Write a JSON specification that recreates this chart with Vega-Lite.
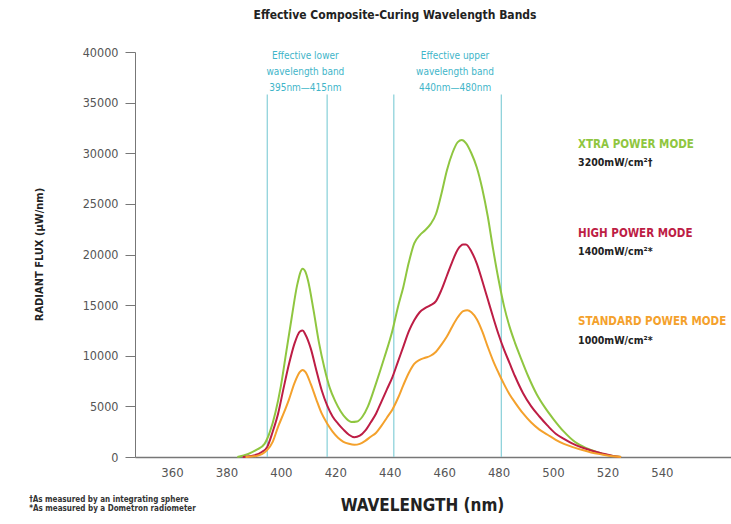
{
  "$schema": "https://vega.github.io/schema/vega-lite/v6.json",
  "width": 596,
  "height": 405,
  "autosize": {"type": "none"},
  "padding": {"left": 135, "top": 52, "right": 0, "bottom": 67},
  "background": "white",
  "title": {"text": "Effective Composite-Curing Wavelength Bands", "anchor": "middle", "dx": -38, "offset": 24, "fontSize": 12, "fontWeight": "bold", "color": "#222", "font": "Liberation Sans Narrow, DejaVu Sans Condensed, sans-serif"},
  "config": {"view": {"stroke": null}, "font": "Liberation Sans Narrow, DejaVu Sans Condensed, sans-serif"},
  "datasets": {
    "curves": [
      {"mode": "XTRA POWER MODE", "wl": 384, "flux": 0},
      {"mode": "XTRA POWER MODE", "wl": 388, "flux": 300},
      {"mode": "XTRA POWER MODE", "wl": 391, "flux": 700},
      {"mode": "XTRA POWER MODE", "wl": 394, "flux": 1300},
      {"mode": "XTRA POWER MODE", "wl": 396, "flux": 2500},
      {"mode": "XTRA POWER MODE", "wl": 398, "flux": 4400},
      {"mode": "XTRA POWER MODE", "wl": 400, "flux": 7000},
      {"mode": "XTRA POWER MODE", "wl": 402, "flux": 10400},
      {"mode": "XTRA POWER MODE", "wl": 404, "flux": 13800},
      {"mode": "XTRA POWER MODE", "wl": 406, "flux": 17000},
      {"mode": "XTRA POWER MODE", "wl": 408, "flux": 18600},
      {"mode": "XTRA POWER MODE", "wl": 409, "flux": 18300},
      {"mode": "XTRA POWER MODE", "wl": 410, "flux": 17400},
      {"mode": "XTRA POWER MODE", "wl": 412, "flux": 14500},
      {"mode": "XTRA POWER MODE", "wl": 414, "flux": 11300},
      {"mode": "XTRA POWER MODE", "wl": 416, "flux": 8800},
      {"mode": "XTRA POWER MODE", "wl": 418, "flux": 6800},
      {"mode": "XTRA POWER MODE", "wl": 420, "flux": 5500},
      {"mode": "XTRA POWER MODE", "wl": 422, "flux": 4500},
      {"mode": "XTRA POWER MODE", "wl": 424, "flux": 3800},
      {"mode": "XTRA POWER MODE", "wl": 426, "flux": 3450},
      {"mode": "XTRA POWER MODE", "wl": 428, "flux": 3500},
      {"mode": "XTRA POWER MODE", "wl": 430, "flux": 4000},
      {"mode": "XTRA POWER MODE", "wl": 432, "flux": 5000},
      {"mode": "XTRA POWER MODE", "wl": 435, "flux": 7300},
      {"mode": "XTRA POWER MODE", "wl": 438, "flux": 9800},
      {"mode": "XTRA POWER MODE", "wl": 441, "flux": 12500},
      {"mode": "XTRA POWER MODE", "wl": 443, "flux": 14800},
      {"mode": "XTRA POWER MODE", "wl": 445, "flux": 16800},
      {"mode": "XTRA POWER MODE", "wl": 447, "flux": 19200},
      {"mode": "XTRA POWER MODE", "wl": 449, "flux": 21100},
      {"mode": "XTRA POWER MODE", "wl": 451, "flux": 21900},
      {"mode": "XTRA POWER MODE", "wl": 453, "flux": 22400},
      {"mode": "XTRA POWER MODE", "wl": 455, "flux": 23000},
      {"mode": "XTRA POWER MODE", "wl": 457, "flux": 24000},
      {"mode": "XTRA POWER MODE", "wl": 459, "flux": 26000},
      {"mode": "XTRA POWER MODE", "wl": 461, "flux": 28300},
      {"mode": "XTRA POWER MODE", "wl": 463, "flux": 30000},
      {"mode": "XTRA POWER MODE", "wl": 465, "flux": 31100},
      {"mode": "XTRA POWER MODE", "wl": 466.5, "flux": 31300},
      {"mode": "XTRA POWER MODE", "wl": 468, "flux": 31000},
      {"mode": "XTRA POWER MODE", "wl": 470, "flux": 30000},
      {"mode": "XTRA POWER MODE", "wl": 472, "flux": 28600},
      {"mode": "XTRA POWER MODE", "wl": 474, "flux": 26500},
      {"mode": "XTRA POWER MODE", "wl": 476, "flux": 23800},
      {"mode": "XTRA POWER MODE", "wl": 478, "flux": 20500},
      {"mode": "XTRA POWER MODE", "wl": 480, "flux": 17500},
      {"mode": "XTRA POWER MODE", "wl": 482, "flux": 14900},
      {"mode": "XTRA POWER MODE", "wl": 484, "flux": 12900},
      {"mode": "XTRA POWER MODE", "wl": 486, "flux": 11300},
      {"mode": "XTRA POWER MODE", "wl": 488, "flux": 9900},
      {"mode": "XTRA POWER MODE", "wl": 491, "flux": 7900},
      {"mode": "XTRA POWER MODE", "wl": 494, "flux": 6200},
      {"mode": "XTRA POWER MODE", "wl": 497, "flux": 4900},
      {"mode": "XTRA POWER MODE", "wl": 500, "flux": 3800},
      {"mode": "XTRA POWER MODE", "wl": 504, "flux": 2500},
      {"mode": "XTRA POWER MODE", "wl": 508, "flux": 1500},
      {"mode": "XTRA POWER MODE", "wl": 512, "flux": 900},
      {"mode": "XTRA POWER MODE", "wl": 516, "flux": 500},
      {"mode": "XTRA POWER MODE", "wl": 520, "flux": 200},
      {"mode": "XTRA POWER MODE", "wl": 525, "flux": 0},

      {"mode": "HIGH POWER MODE", "wl": 386, "flux": 0},
      {"mode": "HIGH POWER MODE", "wl": 390, "flux": 150},
      {"mode": "HIGH POWER MODE", "wl": 393, "flux": 500},
      {"mode": "HIGH POWER MODE", "wl": 395, "flux": 1000},
      {"mode": "HIGH POWER MODE", "wl": 397, "flux": 2500},
      {"mode": "HIGH POWER MODE", "wl": 399, "flux": 4300},
      {"mode": "HIGH POWER MODE", "wl": 401, "flux": 6800},
      {"mode": "HIGH POWER MODE", "wl": 403, "flux": 9200},
      {"mode": "HIGH POWER MODE", "wl": 405, "flux": 11200},
      {"mode": "HIGH POWER MODE", "wl": 407, "flux": 12400},
      {"mode": "HIGH POWER MODE", "wl": 408, "flux": 12500},
      {"mode": "HIGH POWER MODE", "wl": 409, "flux": 12100},
      {"mode": "HIGH POWER MODE", "wl": 411, "flux": 10700},
      {"mode": "HIGH POWER MODE", "wl": 413, "flux": 8600},
      {"mode": "HIGH POWER MODE", "wl": 415, "flux": 6600},
      {"mode": "HIGH POWER MODE", "wl": 417, "flux": 5100},
      {"mode": "HIGH POWER MODE", "wl": 419, "flux": 4000},
      {"mode": "HIGH POWER MODE", "wl": 421, "flux": 3300},
      {"mode": "HIGH POWER MODE", "wl": 423, "flux": 2700},
      {"mode": "HIGH POWER MODE", "wl": 425, "flux": 2200},
      {"mode": "HIGH POWER MODE", "wl": 427, "flux": 1950},
      {"mode": "HIGH POWER MODE", "wl": 429, "flux": 2100},
      {"mode": "HIGH POWER MODE", "wl": 431, "flux": 2600},
      {"mode": "HIGH POWER MODE", "wl": 433, "flux": 3400},
      {"mode": "HIGH POWER MODE", "wl": 435, "flux": 4300},
      {"mode": "HIGH POWER MODE", "wl": 437, "flux": 5500},
      {"mode": "HIGH POWER MODE", "wl": 439, "flux": 6700},
      {"mode": "HIGH POWER MODE", "wl": 441, "flux": 7900},
      {"mode": "HIGH POWER MODE", "wl": 443, "flux": 9400},
      {"mode": "HIGH POWER MODE", "wl": 445, "flux": 10900},
      {"mode": "HIGH POWER MODE", "wl": 447, "flux": 12400},
      {"mode": "HIGH POWER MODE", "wl": 449, "flux": 13500},
      {"mode": "HIGH POWER MODE", "wl": 451, "flux": 14300},
      {"mode": "HIGH POWER MODE", "wl": 453, "flux": 14700},
      {"mode": "HIGH POWER MODE", "wl": 455, "flux": 15000},
      {"mode": "HIGH POWER MODE", "wl": 457, "flux": 15400},
      {"mode": "HIGH POWER MODE", "wl": 459, "flux": 16500},
      {"mode": "HIGH POWER MODE", "wl": 461, "flux": 17900},
      {"mode": "HIGH POWER MODE", "wl": 463, "flux": 19300},
      {"mode": "HIGH POWER MODE", "wl": 465, "flux": 20500},
      {"mode": "HIGH POWER MODE", "wl": 467, "flux": 21000},
      {"mode": "HIGH POWER MODE", "wl": 468, "flux": 21000},
      {"mode": "HIGH POWER MODE", "wl": 470, "flux": 20300},
      {"mode": "HIGH POWER MODE", "wl": 472, "flux": 19100},
      {"mode": "HIGH POWER MODE", "wl": 474, "flux": 17400},
      {"mode": "HIGH POWER MODE", "wl": 476, "flux": 15600},
      {"mode": "HIGH POWER MODE", "wl": 478, "flux": 13800},
      {"mode": "HIGH POWER MODE", "wl": 480, "flux": 12100},
      {"mode": "HIGH POWER MODE", "wl": 482, "flux": 10600},
      {"mode": "HIGH POWER MODE", "wl": 484, "flux": 9300},
      {"mode": "HIGH POWER MODE", "wl": 486, "flux": 8000},
      {"mode": "HIGH POWER MODE", "wl": 489, "flux": 6300},
      {"mode": "HIGH POWER MODE", "wl": 492, "flux": 5000},
      {"mode": "HIGH POWER MODE", "wl": 495, "flux": 4000},
      {"mode": "HIGH POWER MODE", "wl": 498, "flux": 3100},
      {"mode": "HIGH POWER MODE", "wl": 501, "flux": 2300},
      {"mode": "HIGH POWER MODE", "wl": 504, "flux": 1800},
      {"mode": "HIGH POWER MODE", "wl": 507, "flux": 1350},
      {"mode": "HIGH POWER MODE", "wl": 510, "flux": 1000},
      {"mode": "HIGH POWER MODE", "wl": 514, "flux": 650},
      {"mode": "HIGH POWER MODE", "wl": 518, "flux": 350},
      {"mode": "HIGH POWER MODE", "wl": 522, "flux": 100},
      {"mode": "HIGH POWER MODE", "wl": 525, "flux": 0},

      {"mode": "STANDARD POWER MODE", "wl": 387, "flux": 0},
      {"mode": "STANDARD POWER MODE", "wl": 391, "flux": 100},
      {"mode": "STANDARD POWER MODE", "wl": 395, "flux": 700},
      {"mode": "STANDARD POWER MODE", "wl": 397, "flux": 1500},
      {"mode": "STANDARD POWER MODE", "wl": 399, "flux": 3000},
      {"mode": "STANDARD POWER MODE", "wl": 401, "flux": 4300},
      {"mode": "STANDARD POWER MODE", "wl": 403, "flux": 5700},
      {"mode": "STANDARD POWER MODE", "wl": 405, "flux": 7300},
      {"mode": "STANDARD POWER MODE", "wl": 407, "flux": 8400},
      {"mode": "STANDARD POWER MODE", "wl": 408, "flux": 8600},
      {"mode": "STANDARD POWER MODE", "wl": 409, "flux": 8400},
      {"mode": "STANDARD POWER MODE", "wl": 411, "flux": 7200},
      {"mode": "STANDARD POWER MODE", "wl": 413, "flux": 5700},
      {"mode": "STANDARD POWER MODE", "wl": 415, "flux": 4300},
      {"mode": "STANDARD POWER MODE", "wl": 417, "flux": 3300},
      {"mode": "STANDARD POWER MODE", "wl": 419, "flux": 2500},
      {"mode": "STANDARD POWER MODE", "wl": 421, "flux": 1900},
      {"mode": "STANDARD POWER MODE", "wl": 423, "flux": 1500},
      {"mode": "STANDARD POWER MODE", "wl": 425, "flux": 1300},
      {"mode": "STANDARD POWER MODE", "wl": 427, "flux": 1200},
      {"mode": "STANDARD POWER MODE", "wl": 429, "flux": 1300},
      {"mode": "STANDARD POWER MODE", "wl": 431, "flux": 1600},
      {"mode": "STANDARD POWER MODE", "wl": 433, "flux": 2000},
      {"mode": "STANDARD POWER MODE", "wl": 435, "flux": 2400},
      {"mode": "STANDARD POWER MODE", "wl": 437, "flux": 3100},
      {"mode": "STANDARD POWER MODE", "wl": 439, "flux": 3900},
      {"mode": "STANDARD POWER MODE", "wl": 441, "flux": 4700},
      {"mode": "STANDARD POWER MODE", "wl": 443, "flux": 5800},
      {"mode": "STANDARD POWER MODE", "wl": 445, "flux": 7100},
      {"mode": "STANDARD POWER MODE", "wl": 447, "flux": 8300},
      {"mode": "STANDARD POWER MODE", "wl": 449, "flux": 9200},
      {"mode": "STANDARD POWER MODE", "wl": 451, "flux": 9600},
      {"mode": "STANDARD POWER MODE", "wl": 453, "flux": 9800},
      {"mode": "STANDARD POWER MODE", "wl": 455, "flux": 10000},
      {"mode": "STANDARD POWER MODE", "wl": 457, "flux": 10400},
      {"mode": "STANDARD POWER MODE", "wl": 459, "flux": 11100},
      {"mode": "STANDARD POWER MODE", "wl": 461, "flux": 11900},
      {"mode": "STANDARD POWER MODE", "wl": 463, "flux": 12900},
      {"mode": "STANDARD POWER MODE", "wl": 465, "flux": 13800},
      {"mode": "STANDARD POWER MODE", "wl": 467, "flux": 14400},
      {"mode": "STANDARD POWER MODE", "wl": 468.5, "flux": 14500},
      {"mode": "STANDARD POWER MODE", "wl": 470, "flux": 14300},
      {"mode": "STANDARD POWER MODE", "wl": 472, "flux": 13600},
      {"mode": "STANDARD POWER MODE", "wl": 474, "flux": 12400},
      {"mode": "STANDARD POWER MODE", "wl": 476, "flux": 10900},
      {"mode": "STANDARD POWER MODE", "wl": 478, "flux": 9500},
      {"mode": "STANDARD POWER MODE", "wl": 480, "flux": 8300},
      {"mode": "STANDARD POWER MODE", "wl": 482, "flux": 7200},
      {"mode": "STANDARD POWER MODE", "wl": 484, "flux": 6200},
      {"mode": "STANDARD POWER MODE", "wl": 486, "flux": 5400},
      {"mode": "STANDARD POWER MODE", "wl": 489, "flux": 4300},
      {"mode": "STANDARD POWER MODE", "wl": 492, "flux": 3400},
      {"mode": "STANDARD POWER MODE", "wl": 495, "flux": 2700},
      {"mode": "STANDARD POWER MODE", "wl": 498, "flux": 2200},
      {"mode": "STANDARD POWER MODE", "wl": 501, "flux": 1700},
      {"mode": "STANDARD POWER MODE", "wl": 504, "flux": 1300},
      {"mode": "STANDARD POWER MODE", "wl": 507, "flux": 1000},
      {"mode": "STANDARD POWER MODE", "wl": 510, "flux": 750},
      {"mode": "STANDARD POWER MODE", "wl": 514, "flux": 450},
      {"mode": "STANDARD POWER MODE", "wl": 518, "flux": 250},
      {"mode": "STANDARD POWER MODE", "wl": 522, "flux": 80},
      {"mode": "STANDARD POWER MODE", "wl": 525, "flux": 0}
    ],
    "bands": [
      {"wl": 395, "lo": 0, "hi": 35800},
      {"wl": 417, "lo": 0, "hi": 35800},
      {"wl": 441.5, "lo": 0, "hi": 35800},
      {"wl": 481, "lo": 0, "hi": 35800}
    ],
    "bandText": [
      {"wl": 409, "flux": 39600, "text": "Effective lower"},
      {"wl": 409, "flux": 38000, "text": "wavelength band"},
      {"wl": 409, "flux": 36400, "text": "395nm—415nm"},
      {"wl": 464, "flux": 39600, "text": "Effective upper"},
      {"wl": 464, "flux": 38000, "text": "wavelength band"},
      {"wl": 464, "flux": 36400, "text": "440nm—480nm"}
    ],
    "modeLabels": [
      {"mode": "XTRA POWER MODE", "wl": 509.2, "flux": 30800},
      {"mode": "HIGH POWER MODE", "wl": 509.2, "flux": 22000},
      {"mode": "STANDARD POWER MODE", "wl": 509.2, "flux": 13300}
    ],
    "modeValues": [
      {"wl": 509.2, "flux": 29000, "text": "3200mW/cm²†"},
      {"wl": 509.2, "flux": 20200, "text": "1400mW/cm²*"},
      {"wl": 509.2, "flux": 11500, "text": "1000mW/cm²*"}
    ],
    "notes": [
      {"wl": 307.5, "flux": -4250, "text": "†As measured by an integrating sphere"},
      {"wl": 307.5, "flux": -5150, "text": "*As measured by a Dometron radiometer"}
    ]
  },
  "layer": [
    {
      "data": {"name": "bands"},
      "mark": {"type": "rule", "color": "#86cfd8", "strokeWidth": 1.2},
      "encoding": {
        "x": {"field": "wl", "type": "quantitative", "scale": {"domain": [346.4, 565.4], "nice": false, "zero": false},
          "axis": {"values": [360, 380, 400, 420, 440, 460, 480, 500, 520, 540], "ticks": false, "grid": false, "domainColor": "#777", "domainWidth": 1.5, "labelFontSize": 13, "labelColor": "#555", "labelPadding": 9, "labelFont": "Liberation Sans Narrow, DejaVu Sans Condensed, sans-serif", "title": "WAVELENGTH (nm)", "titleFontSize": 17, "titleFontWeight": "bold", "titleColor": "#222", "titlePadding": 18, "titleX": 287}},
        "y": {"field": "lo", "type": "quantitative", "scale": {"domain": [0, 40000], "nice": false},
          "axis": {"values": [0, 5000, 10000, 15000, 20000, 25000, 30000, 35000, 40000], "format": "d", "grid": false, "tickSize": 10, "tickColor": "#777", "domainColor": "#777", "labelFontSize": 12.5, "labelColor": "#555", "labelPadding": 7, "labelFont": "Liberation Sans Narrow, DejaVu Sans Condensed, sans-serif", "title": "RADIANT FLUX (µW/nm)", "titleFontSize": 11, "titleFontWeight": "bold", "titleColor": "#222", "titleX": -96, "titleY": 202, "titleAlign": "center", "titleBaseline": "middle", "titleAngle": -90}},
        "y2": {"field": "hi"}
      }
    },
    {
      "data": {"name": "curves"},
      "mark": {"type": "line", "interpolate": "monotone", "strokeWidth": 2},
      "encoding": {
        "x": {"field": "wl", "type": "quantitative"},
        "y": {"field": "flux", "type": "quantitative"},
        "color": {"field": "mode", "type": "nominal", "scale": {"domain": ["XTRA POWER MODE", "HIGH POWER MODE", "STANDARD POWER MODE"], "range": ["#8fc640", "#bd1d45", "#f4a12c"]}, "legend": null}
      }
    },
    {
      "data": {"name": "bandText"},
      "mark": {"type": "text", "align": "center", "baseline": "middle", "fontSize": 10, "color": "#3fb5c9"},
      "encoding": {
        "x": {"field": "wl", "type": "quantitative"},
        "y": {"field": "flux", "type": "quantitative"},
        "text": {"field": "text"}
      }
    },
    {
      "data": {"name": "modeLabels"},
      "mark": {"type": "text", "align": "left", "baseline": "middle", "fontSize": 11.5, "fontWeight": "bold"},
      "encoding": {
        "x": {"field": "wl", "type": "quantitative"},
        "y": {"field": "flux", "type": "quantitative"},
        "text": {"field": "mode"},
        "color": {"field": "mode", "type": "nominal", "legend": null}
      }
    },
    {
      "data": {"name": "modeValues"},
      "mark": {"type": "text", "align": "left", "baseline": "middle", "fontSize": 10.5, "fontWeight": "bold", "color": "#222"},
      "encoding": {
        "x": {"field": "wl", "type": "quantitative"},
        "y": {"field": "flux", "type": "quantitative"},
        "text": {"field": "text"}
      }
    },
    {
      "data": {"name": "notes"},
      "mark": {"type": "text", "align": "left", "baseline": "middle", "fontSize": 8, "fontWeight": "bold", "color": "#333"},
      "encoding": {
        "x": {"field": "wl", "type": "quantitative"},
        "y": {"field": "flux", "type": "quantitative"},
        "text": {"field": "text"}
      }
    }
  ]
}
